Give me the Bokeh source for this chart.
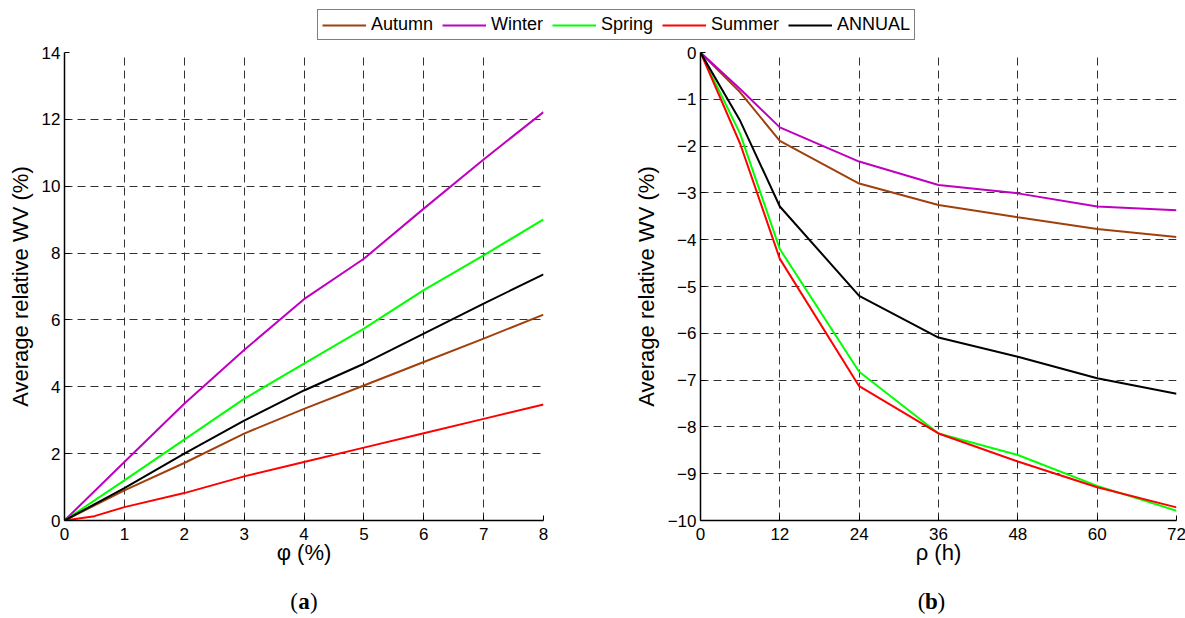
from bokeh.plotting import figure
from bokeh.layouts import column, row
from bokeh.models import Legend, LegendItem, FixedTicker, Range1d, Label
from bokeh.embed import file_html
from bokeh.resources import INLINE

# ---------------- data ----------------
series_names = ["Autumn", "Winter", "Spring", "Summer", "ANNUAL"]
series_colors = ["#A0410D", "#BF00BF", "#00FF00", "#FF0000", "#000000"]

# panel (a): phi (%)
phi = [0, 1, 2, 3, 4, 5, 6, 7, 8]
phi_summer = [0, 0.5, 1, 2, 3, 4, 5, 6, 7, 8]
a_autumn = [0, 0.90, 1.72, 2.60, 3.34, 4.04, 4.74, 5.44, 6.16]
a_winter = [0, 1.75, 3.49, 5.10, 6.62, 7.83, 9.33, 10.80, 12.22]
a_spring = [0, 1.20, 2.42, 3.64, 4.69, 5.74, 6.89, 7.93, 9.01]
a_summer = [0, 0.13, 0.40, 0.82, 1.32, 1.75, 2.18, 2.61, 3.04, 3.47]
a_annual = [0, 0.97, 2.00, 2.99, 3.89, 4.69, 5.59, 6.49, 7.36]

# panel (b): rho (h)
rho = [0, 6, 12, 24, 36, 48, 60, 72]
b_autumn = [0, -0.85, -1.89, -2.80, -3.26, -3.52, -3.77, -3.94]
b_winter = [0, -0.78, -1.60, -2.33, -2.83, -3.01, -3.29, -3.37]
b_spring = [0, -1.74, -4.20, -6.82, -8.14, -8.60, -9.26, -9.79]
b_summer = [0, -1.95, -4.41, -7.13, -8.14, -8.74, -9.29, -9.72]
b_annual = [0, -1.46, -3.29, -5.20, -6.09, -6.50, -6.96, -7.29]

a_xticks = [0, 1, 2, 3, 4, 5, 6, 7, 8]
a_yticks = [0, 2, 4, 6, 8, 10, 12, 14]
b_xticks = [0, 12, 24, 36, 48, 60, 72]
b_yticks = [-10, -9, -8, -7, -6, -5, -4, -3, -2, -1, 0]

panel_letters = ["a", "b"]

FONT = "Liberation Sans"
SERIF = "Liberation Serif"


def style(p, xlabel, ylabel, xticks, yticks):
    p.outline_line_color = None
    p.background_fill_color = "white"
    p.border_fill_color = "white"
    p.xaxis.ticker = FixedTicker(ticks=xticks)
    p.yaxis.ticker = FixedTicker(ticks=yticks)
    for ax in (p.xaxis[0], p.yaxis[0]):
        ax.axis_line_color = "black"
        ax.axis_line_width = 1.5
        ax.major_tick_in = 5
        ax.major_tick_out = 0
        ax.minor_tick_line_color = None
        ax.major_tick_line_color = "black"
        ax.major_label_text_font = FONT
        ax.major_label_text_font_size = "17px"
        ax.major_label_text_color = "black"
        ax.axis_label_text_font = FONT
        ax.axis_label_text_font_size = "22px"
        ax.axis_label_text_font_style = "normal"
        ax.axis_label_text_color = "black"
    p.xaxis.axis_label = xlabel
    p.yaxis.axis_label = ylabel
    p.xaxis.major_label_standoff = 7
    p.yaxis.major_label_standoff = 4
    p.xaxis.axis_label_standoff = -3
    p.yaxis.axis_label_standoff = 6
    for g in (p.xgrid[0], p.ygrid[0]):
        g.grid_line_color = "#333333"
        g.grid_line_width = 1
        g.grid_line_dash = "8 5"


a_data = [(phi, a_autumn), (phi, a_winter), (phi, a_spring), (phi_summer, a_summer), (phi, a_annual)]
b_data = [b_autumn, b_winter, b_spring, b_summer, b_annual]

# ---------------- panel (a) ----------------
pa = figure(frame_width=479, frame_height=468, min_border_left=64, min_border_right=87,
            min_border_top=11, min_border_bottom=60,
            x_range=Range1d(0, 8), y_range=Range1d(0, 14),
            output_backend="svg", toolbar_location=None)
style(pa, "φ (%)", "Average relative WV (%)", a_xticks, a_yticks)
for (xs, ys), c in zip(a_data, series_colors):
    pa.line(xs, ys, line_color=c, line_width=2)

# ---------------- panel (b) ----------------
pb = figure(frame_width=476, frame_height=468, min_border_left=63, min_border_right=16,
            min_border_top=11, min_border_bottom=60,
            x_range=Range1d(0, 72), y_range=Range1d(-10, 0),
            output_backend="svg", toolbar_location=None)
style(pb, "ρ (h)", "Average relative WV (%)", b_xticks, b_yticks)
for ys, c in zip(b_data, series_colors):
    pb.line(rho, ys, line_color=c, line_width=2)

# ---------------- shared legend (series drawn out of view, only the key shows) ----------------
pl = figure(width=1185, height=41, min_border=0, x_range=Range1d(100, 101), y_range=Range1d(100, 101),
            x_axis_location=None, y_axis_location=None,
            output_backend="svg", toolbar_location=None)
pl.outline_line_color = None
pl.xgrid.visible = False
pl.ygrid.visible = False
items = []
for name, (xs, ys), c in zip(series_names, a_data, series_colors):
    r = pl.line(xs, ys, line_color=c, line_width=2)
    items.append(LegendItem(label=name, renderers=[r]))
legend = Legend(items=items, orientation="horizontal", location=(317, 1),
                glyph_width=44, glyph_height=18, label_height=18,
                label_standoff=5, spacing=9, padding=4, margin=0,
                label_text_font=FONT, label_text_font_size="18px", label_text_color="black",
                border_line_color="black", border_line_width=1,
                background_fill_color="white", background_fill_alpha=1)
pl.add_layout(legend, "center")

# ---------------- panel captions strip ----------------
pc = figure(width=1185, height=38, min_border=0, x_range=Range1d(0, 1), y_range=Range1d(0, 1),
            x_axis_location=None, y_axis_location=None,
            output_backend="svg", toolbar_location=None)
pc.outline_line_color = None
pc.xgrid.visible = False
pc.ygrid.visible = False
common = dict(y=17, x_units="screen", y_units="screen", text_font=SERIF,
              text_font_size="23px", text_baseline="middle", text_color="black")
caption_centers = [64 + 479 / 2, 630 + 63 + 476 / 2]
for letter, cx in zip(panel_letters, caption_centers):
    pc.add_layout(Label(x=cx - 6, text="(", text_align="right", **common))
    pc.add_layout(Label(x=cx, text=letter, text_font_style="bold", text_align="center", **common))
    pc.add_layout(Label(x=cx + 6, text=")", text_align="left", **common))

layout = column(pl, row(pa, pb, spacing=0), pc, spacing=0)
open("out.html", "w").write(file_html(layout, INLINE))
